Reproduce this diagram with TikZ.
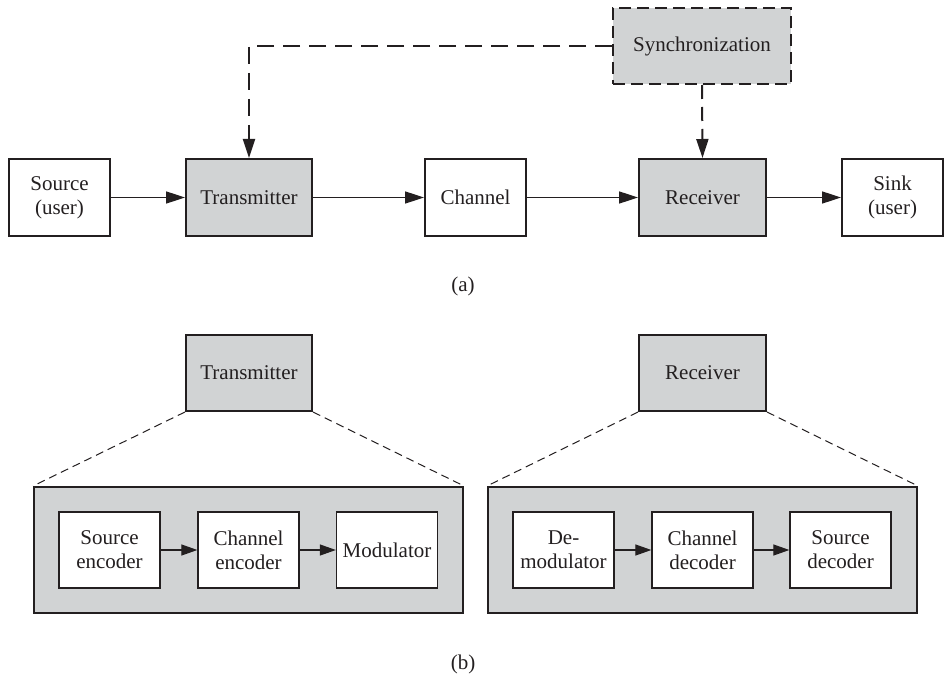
\documentclass[tikz,border=0pt]{standalone}
\usepackage{fontspec}
\setmainfont{Liberation Serif}
\usetikzlibrary{arrows.meta}
\definecolor{boxgray}{RGB}{209,211,212}
\definecolor{ink}{RGB}{35,31,32}
\begin{document}
\begin{tikzpicture}[x=1pt,y=-1pt,
  every node/.style={font=\fontsize{21}{24}\selectfont, text=ink, align=center, inner sep=0pt},
  blk/.style={draw=ink, line width=2pt, rectangle, minimum width=101pt, minimum height=77pt},
  gblk/.style={blk, fill=boxgray},
  inblk/.style={draw=ink, line width=1.3pt, fill=white, rectangle, minimum width=101pt, minimum height=76pt},
  outer/.style={draw=ink, line width=2pt, fill=boxgray, rectangle, minimum width=429pt, minimum height=126pt},
  arr/.style={draw=ink, line width=1.6pt, -{Triangle[length=19pt,width=12pt]}},
  sarr/.style={draw=ink, line width=1.2pt, -{Triangle[length=16pt,width=11pt]}},
  syncline/.style={draw=ink, line width=2pt, dash pattern=on 17pt off 9pt},
  zoomline/.style={draw=ink, line width=1pt, dash pattern=on 8pt off 5pt}
]
\useasboundingbox (0,0) rectangle (945,676);
% (a)
\node[blk] (src) at (59.5,197.5) {Source\\(user)};
\node[gblk, minimum width=126pt] (tx) at (249,197.5) {Transmitter};
\node[blk] (ch) at (475.5,197.5) {Channel};
\node[gblk, minimum width=127pt] (rx) at (702.5,197.5) {Receiver};
\node[blk] (sink) at (892.5,197.5) {Sink\\(user)};
\node[draw=ink, line width=2pt, dash pattern=on 12pt off 6pt, fill=boxgray, minimum width=178pt, minimum height=76pt] (sync) at (702,46) {Synchronization};
\draw[arr] (src) -- (tx);
\draw[arr] (tx) -- (ch);
\draw[arr] (ch) -- (rx);
\draw[arr] (rx) -- (sink);
\draw[syncline, -{Triangle[length=19pt,width=12pt]}] (sync.west) -| (tx.north);
\draw[syncline, dash pattern=on 14pt off 8pt, -{Triangle[length=19pt,width=12pt]}] (sync.south) -- (rx.north);
\node (la) at (463,286) {(a)};
% (b)
\node[gblk, minimum width=126pt, minimum height=76pt] (tx2) at (249,373) {Transmitter};
\node[gblk, minimum width=127pt, minimum height=76pt] (rx2) at (702.5,373) {Receiver};
\node[outer] (outl) at (248.5,550) {};
\node[outer] (outr) at (702.5,550) {};
\draw[zoomline] (tx2.south west) -- (outl.north west);
\draw[zoomline] (tx2.south east) -- (outl.north east);
\draw[zoomline] (rx2.south west) -- (outr.north west);
\draw[zoomline] (rx2.south east) -- (outr.north east);
\node[inblk] (senc) at (109.5,550) {Source\\encoder};
\node[inblk] (cenc) at (248.5,550) {Channel\\encoder};
\node[inblk] (mod) at (387,550) {Modulator};
\node[inblk] (dem) at (563.5,550) {De-\\modulator};
\node[inblk] (cdec) at (702.5,550) {Channel\\decoder};
\node[inblk] (sdec) at (840.5,550) {Source\\decoder};
\draw[sarr] (senc) -- (cenc);
\draw[sarr] (cenc) -- (mod);
\draw[sarr] (dem) -- (cdec);
\draw[sarr] (cdec) -- (sdec);
\node (lb) at (463,664) {(b)};
\end{tikzpicture}
\end{document}
